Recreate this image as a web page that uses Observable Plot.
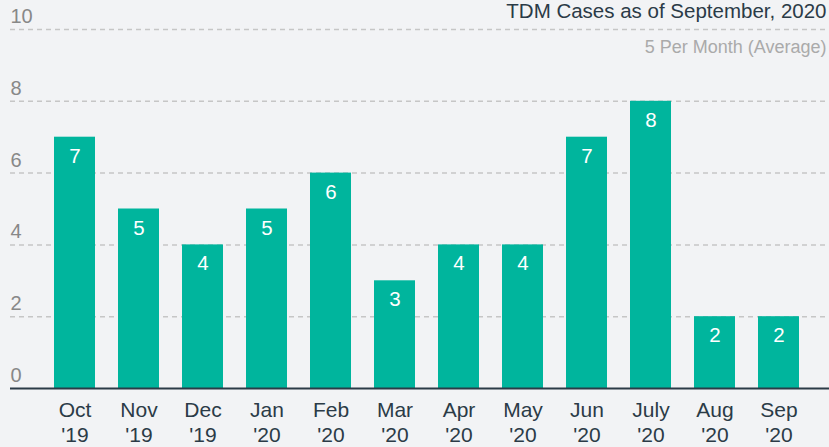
<!DOCTYPE html>
<html>
<head>
<meta charset="utf-8">
<script src="https://cdn.jsdelivr.net/npm/d3@7"></script>
<script src="https://cdn.jsdelivr.net/npm/@observablehq/plot@0.6"></script>
<style>
  html, body { margin: 0; padding: 0; background: #f2f3f5; overflow: hidden; }
  svg { display: block; }
</style>
</head>
<body>
<div id="chart"></div>
<script>
const months = ["Oct", "Nov", "Dec", "Jan", "Feb", "Mar", "Apr", "May", "Jun", "July", "Aug", "Sep"];
const years = ["'19", "'19", "'19", "'20", "'20", "'20", "'20", "'20", "'20", "'20", "'20", "'20"];
const cases = [7, 5, 4, 5, 6, 3, 4, 4, 7, 8, 2, 2];
const yTicks = [0, 2, 4, 6, 8, 10];
const gridTicks = [2, 4, 6, 8, 10];
const title = "TDM Cases as of September, 2020";
const subtitle = "5 Per Month (Average)";

const data = months.map((m, i) => ({month: m, year: years[i], value: cases[i]}));
const font = "Liberation Sans, Arial, sans-serif";

const chart = Plot.plot({
  width: 829,
  height: 447,
  marginLeft: 10,
  marginRight: 0,
  marginTop: 0,
  marginBottom: 0,
  style: {background: "#f2f3f5", fontFamily: font, overflow: "visible"},
  x: {domain: months, range: [30, 823], padding: 0.36, axis: null},
  y: {domain: [0, 10], range: [388, 29], axis: null},
  marks: [
    Plot.ruleY(gridTicks, {stroke: "#c6c6c6", strokeWidth: 1.5, strokeDasharray: "5,4"}),
    Plot.barY(data, {x: "month", y: "value", fill: "#00b59d"}),
    Plot.ruleY([0], {stroke: "#2b3b47", strokeWidth: 2}),
    Plot.text(yTicks, {y: d => d, text: d => String(d), frameAnchor: "left", textAnchor: "start", lineAnchor: "middle", dy: -13, fontSize: 20, fill: "#888888"}),
    Plot.text(data, {x: "month", y: "value", text: d => String(d.value), dy: 19, lineAnchor: "middle", fontSize: 20.5, fill: "#ffffff"}),
    Plot.text(data, {x: "month", y: () => 0, text: "month", dy: 22, lineAnchor: "middle", fontSize: 21, fill: "#2b3b47"}),
    Plot.text(data, {x: "month", y: () => 0, text: "year", dy: 46.5, lineAnchor: "middle", fontSize: 21, fill: "#2b3b47"}),
    Plot.text([title], {frameAnchor: "top-right", textAnchor: "end", lineAnchor: "middle", dx: -3, dy: 10.5, fontSize: 20.5, fill: "#2b3b47"}),
    Plot.text([subtitle], {frameAnchor: "top-right", textAnchor: "end", lineAnchor: "middle", dx: -3, dy: 47, fontSize: 18, fill: "#aaaaaa"})
  ]
});
document.getElementById("chart").append(chart);
</script>
</body>
</html>
